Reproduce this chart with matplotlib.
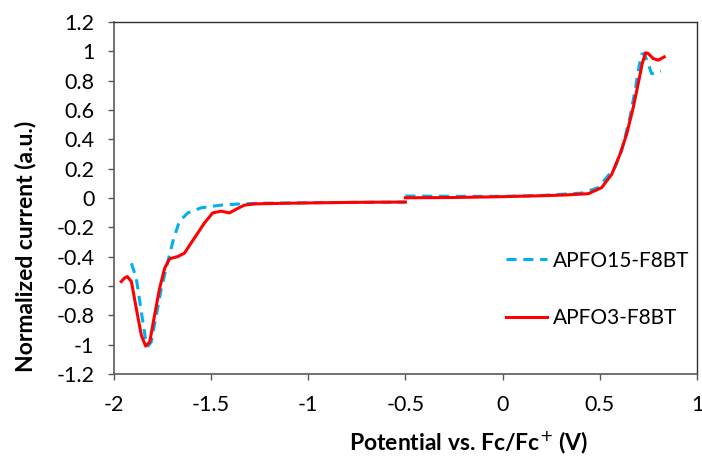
import numpy as np
import matplotlib
matplotlib.use('Agg')
import matplotlib.pyplot as plt

plt.rcParams['font.family'] = ['Lato', 'DejaVu Sans']

# APFO15-F8BT (blue dashed): reduction branch, then oxidation branch
apfo15_red_x = [-1.909, -1.884, -1.858, -1.837, -1.824, -1.807, -1.781, -1.755, -1.730,
                -1.713, -1.691, -1.662, -1.619, -1.550, -1.448, -1.337, -1.25, -1.0, -0.75, -0.5]
apfo15_red_y = [-0.444, -0.547, -0.775, -0.958, -1.008, -0.981, -0.798, -0.615, -0.478,
                -0.386, -0.272, -0.158, -0.101, -0.066, -0.048, -0.039, -0.035, -0.032, -0.029, -0.027]
apfo15_ox_x = [-0.5, -0.25, 0.0, 0.2, 0.407, 0.492, 0.578, 0.612, 0.629, 0.655, 0.681,
               0.701, 0.715, 0.728, 0.745, 0.766, 0.792, 0.814]
apfo15_ox_y = [0.014, 0.012, 0.012, 0.018, 0.034, 0.071, 0.21, 0.322, 0.414, 0.551, 0.734,
               0.894, 0.98, 0.985, 0.928, 0.848, 0.853, 0.866]

# APFO3-F8BT (red solid)
apfo3_red_x = [-1.961, -1.945, -1.930, -1.909, -1.884, -1.858, -1.836, -1.815, -1.790, -1.764,
               -1.738, -1.713, -1.670, -1.636, -1.585, -1.533, -1.491, -1.448, -1.405, -1.363,
               -1.328, -1.268, -1.1, -0.944, -0.75, -0.5]
apfo3_red_y = [-0.569, -0.545, -0.535, -0.569, -0.752, -0.935, -1.008, -0.981, -0.798, -0.615,
               -0.478, -0.414, -0.398, -0.375, -0.272, -0.169, -0.101, -0.089, -0.101, -0.071,
               -0.048, -0.039, -0.035, -0.032, -0.029, -0.027]
apfo3_ox_x = [-0.5, -0.25, -0.021, 0.2, 0.321, 0.441, 0.509, 0.561, 0.604, 0.638, 0.672,
              0.697, 0.718, 0.735, 0.749, 0.774, 0.800, 0.831]
apfo3_ox_y = [0.002, 0.004, 0.009, 0.016, 0.021, 0.030, 0.071, 0.162, 0.30, 0.437, 0.619,
              0.779, 0.917, 0.99, 0.985, 0.951, 0.94, 0.962]

blue = '#00B0F0'
red = '#FF0000'

fig = plt.figure(figsize=(7.02, 4.58), dpi=100)
ax = fig.add_axes([0.162, 0.183, 0.831, 0.769])

ax.plot(apfo15_red_x + [np.nan] + apfo15_ox_x, apfo15_red_y + [np.nan] + apfo15_ox_y,
        color=blue, lw=2.2, ls=(0, (3.3, 2.2)), dash_joinstyle='round', label='APFO15-F8BT')
ax.plot(apfo3_red_x + [np.nan] + apfo3_ox_x, apfo3_red_y + [np.nan] + apfo3_ox_y,
        color=red, lw=2.2, solid_joinstyle='round', label='APFO3-F8BT')

ax.set_xlim(-2, 1)
ax.set_ylim(-1.2, 1.2)
ax.set_xticks([-2, -1.5, -1, -0.5, 0, 0.5, 1])
ax.set_xticklabels(['-2', '-1.5', '-1', '-0.5', '0', '0.5', '1'])
yt = np.round(np.arange(-1.2, 1.21, 0.2), 1)
ax.set_yticks(yt)
ax.set_yticklabels(['0' if v == 0 else ('%g' % v) for v in yt])

ax.tick_params(axis='both', labelsize=15.5, direction='out', length=4, width=1, color='#595959')
ax.tick_params(axis='x', pad=11)
ax.tick_params(axis='y', pad=10)
for side in ['left', 'bottom']:
    ax.spines[side].set_color('#595959')
    ax.spines[side].set_linewidth(1.2)
for side in ['top', 'right']:
    ax.spines[side].set_color('#303030')
    ax.spines[side].set_linewidth(1.0)

fig.text(0.036, 0.463, 'Normalized current (a.u.)', rotation=90, ha='center', va='center',
         fontsize=16.5, fontweight='bold')
fig.text(0.668, 0.033, 'Potential vs. Fc/Fc$^{+}$ (V)', ha='center', va='center',
         fontsize=16.5, fontweight='bold')

ax.legend(loc='center left', bbox_to_anchor=(0.672, 0.241), frameon=False, fontsize=15,
          handlelength=2.0, labelspacing=1.8, handletextpad=0.25, borderpad=0, borderaxespad=0)

fig.savefig('out.png', dpi=100)
